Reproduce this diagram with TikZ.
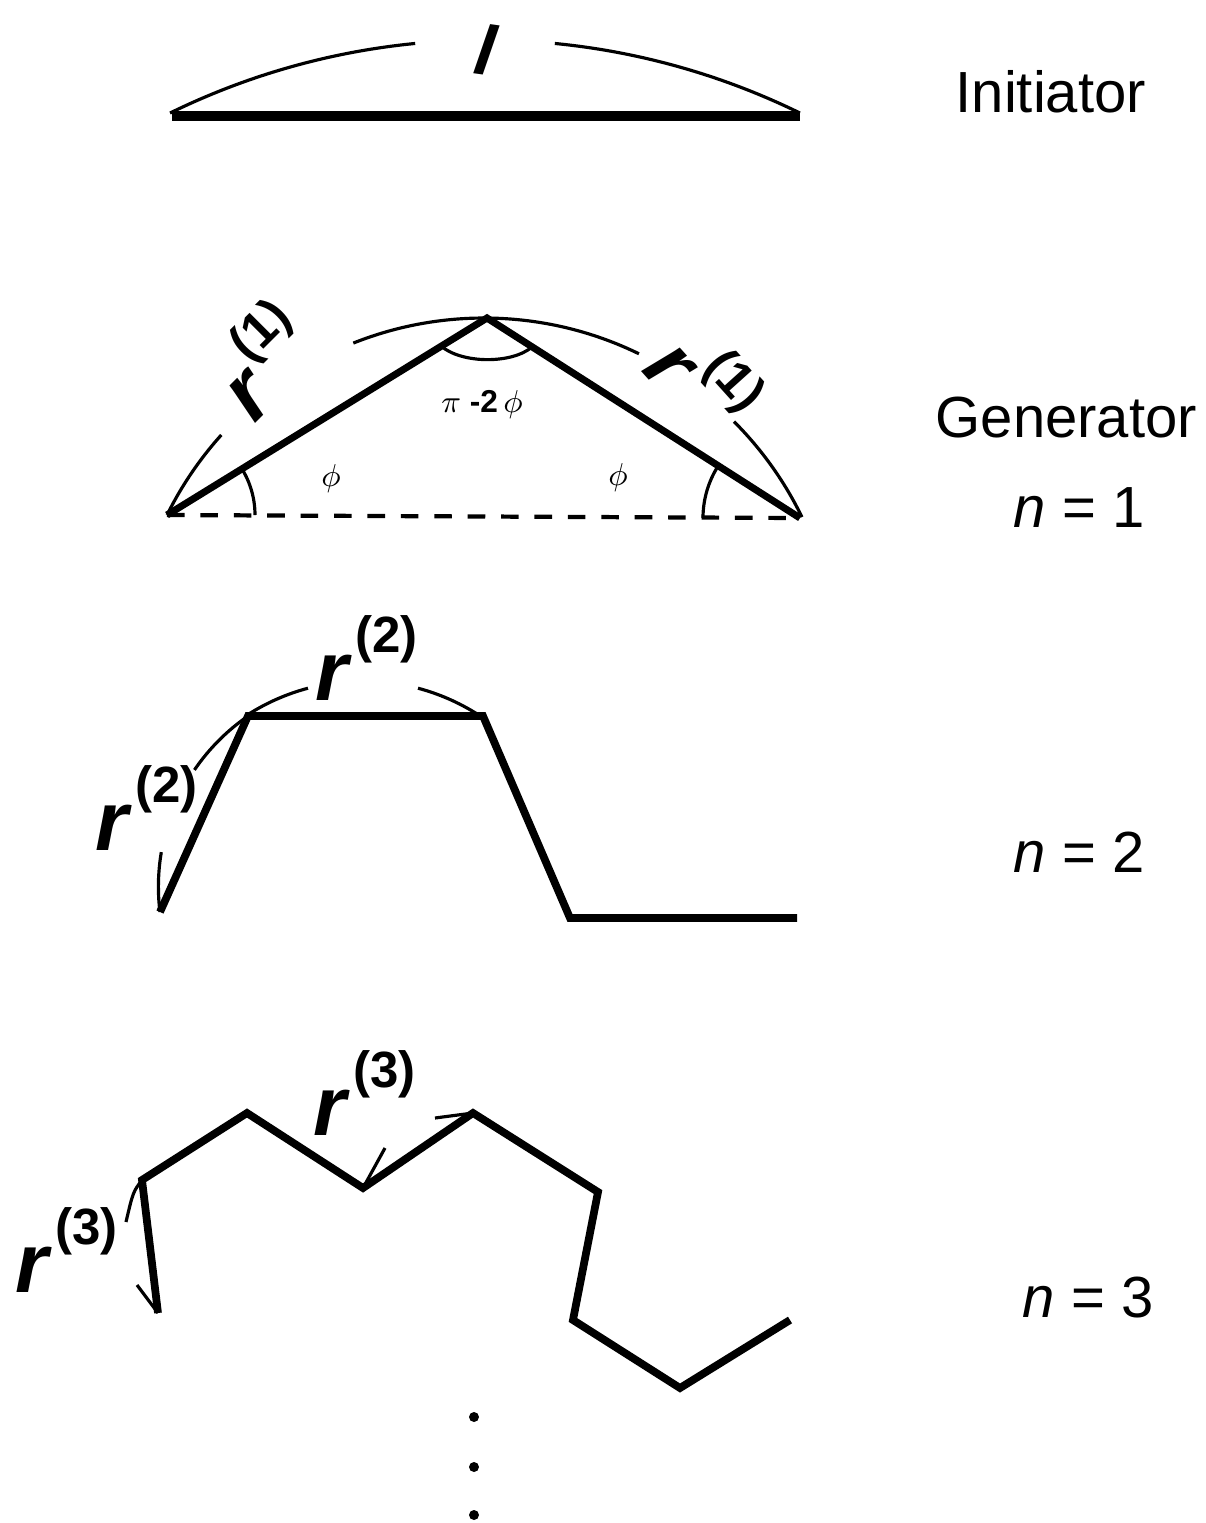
\documentclass[tikz,border=0pt]{standalone}
\usepackage{fontspec}
\setmainfont{Liberation Sans}
\usepackage{amsmath}
\newcommand{\rlab}[1]{{\fontsize{24}{24}\selectfont\bfseries\itshape r}\kern2pt\raisebox{13.4pt}{\fontsize{14.5}{14.5}\selectfont\bfseries(#1)}}
\newcommand{\captext}{\fontsize{16.5}{18}\selectfont}

\begin{document}
\begin{tikzpicture}[x=0.01cm,y=0.01cm,>=stealth,
  every node/.style={inner sep=0pt},
  poly/.style={line width=2.2pt,line join=miter},
  guide/.style={line width=0.9pt}]
  \useasboundingbox (0,0) rectangle (1206,-1523);

  % initiator
  \coordinate (i0) at (172,-116);
  \coordinate (i1) at (800,-116);
  \coordinate (ic) at (485,-756);
  \draw[line width=2.6pt] (i0) -- (i1);
  \draw[guide] (ic) ++(116.1:716) arc[start angle=116.1,end angle=95.6,radius=716];
  \draw[guide] (ic) ++(84.4:716) arc[start angle=84.4,end angle=63.9,radius=716];
  \node[rotate=-8] (len) at (486,-50) {\fontsize{20}{20}\selectfont\bfseries\itshape l};
  \node[anchor=base west] (init) at (955,-112) {\captext Initiator};

  % generator, n = 1
  \coordinate (gL) at (167,-515);
  \coordinate (gT) at (487,-318);
  \coordinate (gR) at (800,-518);
  \coordinate (gc) at (484,-671.5);
  \draw[line width=1.2pt,dash pattern=on 5pt off 4.5pt] (gL) -- (gR);
  \draw[poly,line width=2pt] (gL) -- (gT) -- (gR);
  \draw[guide] (gc) ++(153.7:353.5) arc[start angle=153.7,end angle=138,radius=353.5];
  \draw[guide] (gc) ++(111.7:353.5) arc[start angle=111.7,end angle=64,radius=353.5];
  \draw[guide] (gc) ++(45:353.5) arc[start angle=45,end angle=25.9,radius=353.5];
  \draw[guide] (gL) ++(0:88) arc[start angle=0,end angle=31.6,radius=88];
  \draw[guide] (gR) ++(180:97) arc[start angle=180,end angle=147.4,radius=97];
  \draw[guide] (441,-346) .. controls (462,-364) and (512,-364) .. (532,-347);
  \node[rotate=45] (r1a) at (261,-359) {\rlab{1}};
  \node[rotate=-48] (r1b) at (706,-380) {\rlab{1}};
  \node (top) at (482,-405) {\fontsize{9}{9}\selectfont$\pi$ \textbf{-2}\,$\phi$};
  \node (phiL) at (331,-479) {\fontsize{9}{9}\selectfont$\phi$};
  \node (phiR) at (618,-478) {\fontsize{9}{9}\selectfont$\phi$};
  \node[anchor=base west] (gen) at (935,-437) {\captext Generator};
  \node[anchor=base west] (n1) at (1013,-527) {\captext\textit{n} = 1};

  % n = 2
  \coordinate (a2) at (160,-912);
  \coordinate (b2) at (248,-716);
  \coordinate (c2) at (483,-716);
  \coordinate (d2) at (570,-918);
  \coordinate (e2) at (797,-918);
  \coordinate (t2) at (363,-895);
  \coordinate (l2) at (365.7,-886.7);
  \draw[poly] (a2) -- (b2) -- (c2) -- (d2) -- (e2);
  \draw[guide] (t2) ++(122.8:214) arc[start angle=122.8,end angle=104.9,radius=214];
  \draw[guide] (t2) ++(75.1:214) arc[start angle=75.1,end angle=57.9,radius=214];
  \draw[guide] (l2) ++(187:207.3) arc[start angle=187,end angle=170.4,radius=207.3];
  \draw[guide] (l2) ++(145.7:207.3) arc[start angle=145.7,end angle=124.6,radius=207.3];
  \node[anchor=base west] (r2top) at (315,-700) {\rlab{2}};
  \node[anchor=base west] (r2left) at (95,-850) {\rlab{2}};
  \node[anchor=base west] (n2) at (1013,-872) {\captext\textit{n} = 2};

  % n = 3
  \coordinate (p1) at (158,-1313);
  \coordinate (p2) at (142,-1180);
  \coordinate (p3) at (247,-1113);
  \coordinate (p4) at (363,-1188);
  \coordinate (p5) at (473,-1113);
  \coordinate (p6) at (598,-1192);
  \coordinate (p7) at (573,-1320);
  \coordinate (p8) at (680,-1388);
  \coordinate (p9) at (790,-1320);
  \draw[poly] (p1) -- (p2) -- (p3) -- (p4) -- (p5) -- (p6) -- (p7) -- (p8) -- (p9);
  \draw[guide] (p2) .. controls (133,-1192) .. (126,-1222);
  \draw[guide] (137,-1285) -- (p1);
  \draw[guide] (p4) -- (385,-1148);
  \draw[guide] (435,-1118) -- (p5);
  \node[anchor=base west] (r3left) at (15,-1292) {\rlab{3}};
  \node[anchor=base west] (r3top) at (313,-1135) {\rlab{3}};
  \node[anchor=base west] (n3) at (1022,-1317) {\captext\textit{n} = 3};

  % more steps
  \foreach \y in {1417,1467,1515}
    \fill (474,-\y) circle[radius=5];
\end{tikzpicture}
\end{document}
